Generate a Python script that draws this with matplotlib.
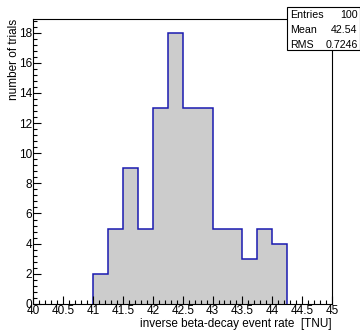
import numpy as np
import matplotlib
matplotlib.use("Agg")
import matplotlib.pyplot as plt
from matplotlib.ticker import MultipleLocator
from matplotlib.patches import Rectangle

plt.rcParams['font.family'] = ['Liberation Sans', 'DejaVu Sans']

# histogram contents (bin width 0.25 TNU)
bin_edges = [41.0, 41.25, 41.5, 41.75, 42.0, 42.25, 42.5, 42.75, 43.0, 43.25, 43.5, 43.75, 44.0, 44.25]
counts = [2, 5, 9, 5, 13, 18, 13, 13, 5, 5, 3, 5, 4]
stat_names = ['Entries', 'Mean', 'RMS']
stat_values = ['100', '42.54', '0.7246']

fig = plt.figure(figsize=(3.6, 3.31), dpi=100)
ax = fig.add_axes([0.093, 0.082, 0.829, 0.86])

ax.stairs(counts, bin_edges, fill=True, color='#cccccc', linewidth=0)
ax.stairs(counts, bin_edges, baseline=0, color='#1a1ab0', linewidth=1.1)

ax.set_xlim(40, 45)
ax.set_ylim(0, 18.9)
ax.xaxis.set_major_locator(MultipleLocator(0.5))
ax.xaxis.set_minor_locator(MultipleLocator(0.1))
ax.yaxis.set_major_locator(MultipleLocator(2))
ax.yaxis.set_minor_locator(MultipleLocator(0.4))
ax.xaxis.set_major_formatter(plt.FuncFormatter(lambda v, p: '%g' % v))

ax.tick_params(which='both', direction='in', top=False, right=False, labelsize=8.5, pad=1, width=0.8)
ax.tick_params(which='major', length=6)
ax.tick_params(which='minor', length=3)
for s in ax.spines.values():
    s.set_linewidth(0.8)

ax.set_xlabel('inverse beta-decay event rate  [TNU]', fontsize=8.5, loc='right', labelpad=0.5)
ax.set_ylabel('number of trials', fontsize=8.5, loc='top', labelpad=-1)

# stat box
bx, by, bw, bh = 287 / 360, 1 - 49.5 / 331, 73 / 360, 42 / 331
fig.patches.append(Rectangle((bx, by), bw, bh, transform=fig.transFigure,
                             facecolor='white', edgecolor='black', linewidth=0.8))
for i, (n, v) in enumerate(zip(stat_names, stat_values)):
    yy = 1 - (15.5 + 14.5 * i) / 331
    fig.text(bx + 3 / 360, yy, n, fontsize=7.7, va='center', ha='left')
    fig.text(bx + bw - 2.5 / 360, yy, v, fontsize=7.7, va='center', ha='right')

fig.savefig('out.png', dpi=100)
